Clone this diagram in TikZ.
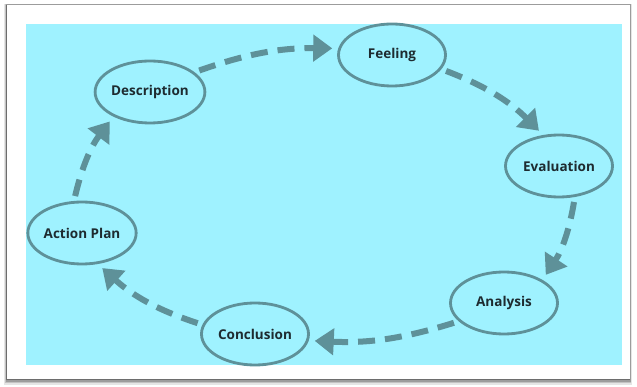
\documentclass[tikz,border=0pt]{standalone}
\usepackage{fontspec}
\setmainfont{Open Sans}
\usetikzlibrary{arrows.meta,shapes.geometric}

\definecolor{sky}{HTML}{9FF2FF}
\definecolor{slate}{HTML}{5E9199}
\definecolor{ink}{HTML}{1E2B30}

\begin{document}
\begin{tikzpicture}[x=1pt,y=-1pt]
	\tikzset{stage/.style={ellipse, draw=slate, line width=2.8pt, minimum width=107pt, minimum height=62pt, inner sep=0pt, text=ink, font=\bfseries\fontsize{13.5}{15}\selectfont}}
	\tikzset{flow/.style={slate, line width=6pt, dash pattern=on 17pt off 10pt, shorten <=5pt, shorten >=6pt, -{Triangle[length=19pt,width=26pt]}}}

	\useasboundingbox (0,0) rectangle (637,387);

	% paper with soft shadow
	\foreach \s/\o in {6/0.1,4/0.15,2.5/0.2,1.2/0.3}
		\fill[black, opacity=\o] (7-\s*0.5,5-\s*0.2) rectangle (630+\s*0.3,379+\s);
	\fill[white] (7,5) rectangle (630,379);
	\fill[sky] (26,24) rectangle (622,365);

	% stages of the cycle
	\node[stage] (desc) at (150,92) {Description};
	\node[stage] (feel) at (392,55) {Feeling};
	\node[stage] (eval) at (559,166) {Evaluation};
	\node[stage] (anal) at (504,303) {Analysis};
	\node[stage] (conc) at (255,334) {Conclusion};
	\node[stage] (plan) at (82,233) {Action Plan};

	% dashed arrows round the cycle
	\draw[flow] (desc.24) to[bend left=10] (feel.173);
	\draw[flow] (feel.-16) to[bend left=12] (eval.117);
	\draw[flow] (eval.-63) to[bend left=12] (anal.31);
	\draw[flow] (anal.202) to[bend left=10] (conc.-7);
	\draw[flow] (conc.170) to[bend left=12] (plan.-63);
	\draw[flow] (plan.104) to[bend left=12] (desc.214);
\end{tikzpicture}
\end{document}
